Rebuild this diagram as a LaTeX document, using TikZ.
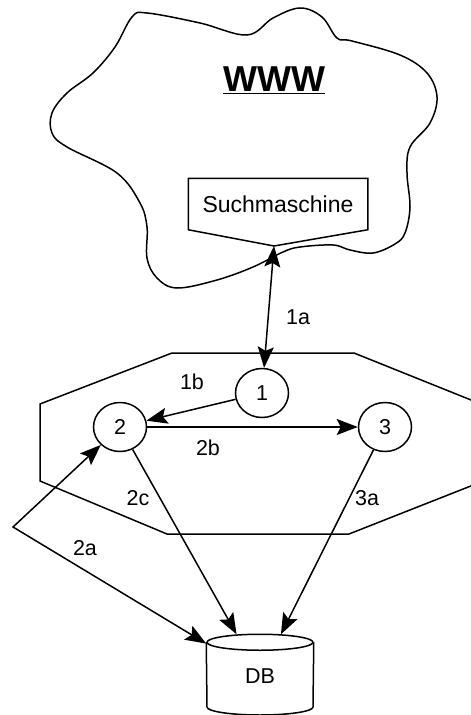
\documentclass[tikz,border=0pt]{standalone}
\usepackage{fontspec}
\setmainfont{Liberation Sans}
\usepackage{tikz}
\usetikzlibrary{arrows.meta,shapes.geometric,positioning}
\newcommand{\lbl}{\fontsize{21.5}{25}\selectfont}
\tikzstyle{state} = [ellipse, draw, line width=1.5pt,
                     minimum width=53pt, minimum height=49pt,
                     inner sep=0pt, font=\lbl]
\tikzstyle{tag} = [inner sep=0pt, font=\lbl]
\tikzstyle{arrow} = [-{Stealth[length=21pt,width=16pt,inset=4pt]}, line width=1.5pt]
\tikzstyle{biarrow} = [{Stealth[length=21pt,width=16pt,inset=4pt]}-{Stealth[length=21pt,width=16pt,inset=4pt]}, line width=1.5pt]

\begin{document}
\begin{tikzpicture}[x=1pt, y=-1pt, line width=1.5pt]
    \useasboundingbox (0,0) rectangle (471,715);
    \clip (0,0) rectangle (471,715);

    % Cloud
    \draw plot[smooth cycle, tension=0.6] coordinates {
        (132,17) (147,13) (200,23) (247,35) (273,18) (300,8) (322,17)
        (337,38) (352,41) (400,55) (427,73) (437,97) (430,123) (410,147)
        (407,173) (410,207) (405,233) (395,244) (373,253) (350,250)
        (333,245) (300,247) (283,252) (253,267) (217,280) (177,288)
        (157,278) (147,258) (147,227) (140,203) (117,173) (67,147)
        (52,133) (52,113) (67,93) (93,73) (115,47)};
    \node[font=\fontsize{36}{42}\selectfont\bfseries] (www) at (274,80) {\underline{WWW}};

    % Search engine box
    \node[font=\fontsize{23}{27}\selectfont, minimum width=178pt, minimum height=50pt] (search) at (278,204) {Suchmaschine};
    \coordinate (searchtip) at (274,246);
    \draw (search.south west) -- (search.north west) -- (search.north east)
        -- (search.south east) -- (searchtip) -- cycle;

    % Octagon
    \draw (172,353) -- (354,353) -- (486,406) -- (486,480) -- (349,534)
        -- (167,534) -- (40,481) -- (40,404) -- cycle;

    % States
    \node[state] (n1) at (262,393) {1};
    \node[state] (n2) at (120,427) {2};
    \node[state] (n3) at (385,427) {3};

    % Database
    \node[tag, minimum width=106pt, minimum height=82pt] (db) at (260,676) {DB};
    \draw ([yshift=-8pt]db.north) ellipse [x radius=53pt, y radius=8pt];
    \draw ([yshift=-8pt]db.north west) -- (207,707)
        arc[start angle=180, end angle=360, x radius=53pt, y radius=8pt]
        -- ([yshift=-8pt]db.north east);

    % Connections
    \coordinate (bend) at (13,527);
    \draw[biarrow] (searchtip) -- (n1);
    \draw[arrow] (n1) -- (n2);
    \draw[arrow] (n2) -- (n3);
    \draw[arrow] (n2) -- (db);
    \draw[arrow] (n3) -- (db);
    \draw[biarrow] (n2) -- (bend) -- (db);

    % Labels
    \node[tag] (l1a) at (298,317) {1a};
    \node[tag] (l1b) at (192,382) {1b};
    \node[tag] (l2b) at (208,448) {2b};
    \node[tag] (l2c) at (138,498) {2c};
    \node[tag] (l3a) at (367,498) {3a};
    \node[tag] (l2a) at (85,548) {2a};
\end{tikzpicture}
\end{document}
